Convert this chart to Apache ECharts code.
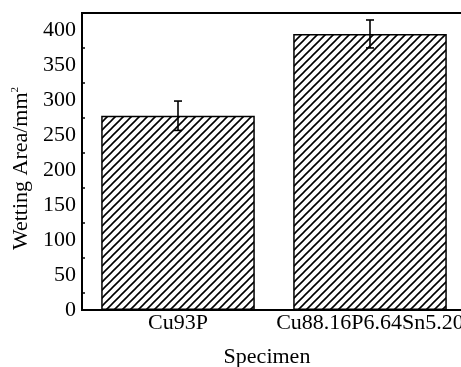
<!DOCTYPE html>
<html>
<head>
<meta charset="utf-8">
<script src="https://cdn.jsdelivr.net/npm/echarts@6/dist/echarts.min.js"></script>
<style>
  html, body { margin: 0; padding: 0; background: #fff; overflow: hidden; }
  #chart { width: 470px; height: 367px; }
</style>
</head>
<body>
<div id="chart"></div>
<script>
// specimens and measured wetting areas (mm²)
const categories = ['Cu93P', 'Cu88.16P6.64Sn5.20']
const areaMeans = [278, 395]
const areaErrors = [21, 20]
const yTicks = [0, 50, 100, 150, 200, 250, 300, 350, 400]

// diagonal hatch fill like the original figure
function makeHatch() {
  const c = document.createElement('canvas')
  c.width = 8
  c.height = 8
  const ctx = c.getContext('2d')
  ctx.fillStyle = '#fff'
  ctx.fillRect(0, 0, 8, 8)
  ctx.strokeStyle = '#000'
  ctx.lineWidth = 1.6
  ctx.beginPath()
  ctx.moveTo(0, 8); ctx.lineTo(8, 0)
  ctx.moveTo(-4, 4); ctx.lineTo(4, -4)
  ctx.moveTo(4, 12); ctx.lineTo(12, 4)
  ctx.stroke()
  return c
}

const font = '"Liberation Serif", "Times New Roman", serif'
const chart = echarts.init(document.getElementById('chart'))

chart.setOption({
  backgroundColor: '#fff',
  animation: false,
  grid: {
    left: 82, top: 13, right: 4, bottom: 57,
    outerBoundsMode: 'none',
    containLabel: false,
    show: true, borderColor: '#000', borderWidth: 2
  },
  xAxis: {
    type: 'category',
    data: categories,
    name: 'Specimen',
    nameLocation: 'middle',
    nameGap: 36,
    nameTextStyle: { fontFamily: font, fontSize: 22, color: '#000', padding: [0, 14, 0, 0] },
    axisLine: { lineStyle: { color: '#000', width: 2 } },
    axisTick: { show: false },
    axisLabel: { fontFamily: font, fontSize: 22, color: '#000', margin: 2, interval: 0, hideOverlap: false }
  },
  yAxis: {
    type: 'value',
    min: 0,
    max: 425,
    interval: 50,
    name: 'Wetting Area/mm{sup|2}',
    nameLocation: 'middle',
    nameGap: 47,
    nameTextStyle: {
      fontFamily: font, fontSize: 22, color: '#000', padding: [0, 14, 0, 0],
      rich: { sup: { fontFamily: font, fontSize: 11, verticalAlign: 'top', padding: [0, 0, 10, 0] } }
    },
    axisLine: { show: true, lineStyle: { color: '#000', width: 2 } },
    axisTick: { inside: true, length: 5, lineStyle: { color: '#000', width: 2 } },
    minorTick: { show: true, splitNumber: 2, length: 3, lineStyle: { color: '#000', width: 1.5 } },
    splitLine: { show: false },
    axisLabel: {
      fontFamily: font, fontSize: 22, color: '#000', margin: 6,
      showMaxLabel: false,
      formatter: v => (yTicks.includes(v) ? String(v) : '')
    }
  },
  series: [
    {
      type: 'bar',
      data: areaMeans,
      barWidth: '80%',
      itemStyle: {
        color: { image: makeHatch(), repeat: 'repeat' },
        borderColor: '#000',
        borderWidth: 1.5
      }
    },
    {
      type: 'custom',
      data: areaMeans.map((m, i) => [i, m - areaErrors[i], m + areaErrors[i]]),
      z: 10,
      renderItem: function (params, api) {
        const lo = api.coord([api.value(0), api.value(1)])
        const hi = api.coord([api.value(0), api.value(2)])
        const x = lo[0]
        const cap = 4
        const style = { stroke: '#000', lineWidth: 1.6 }
        return {
          type: 'group',
          children: [
            { type: 'line', shape: { x1: x, y1: lo[1], x2: x, y2: hi[1] }, style },
            { type: 'line', shape: { x1: x - cap, y1: hi[1], x2: x + cap, y2: hi[1] }, style },
            { type: 'line', shape: { x1: x - cap, y1: lo[1], x2: x + cap, y2: lo[1] }, style }
          ]
        }
      }
    }
  ]
})
</script>
</body>
</html>
